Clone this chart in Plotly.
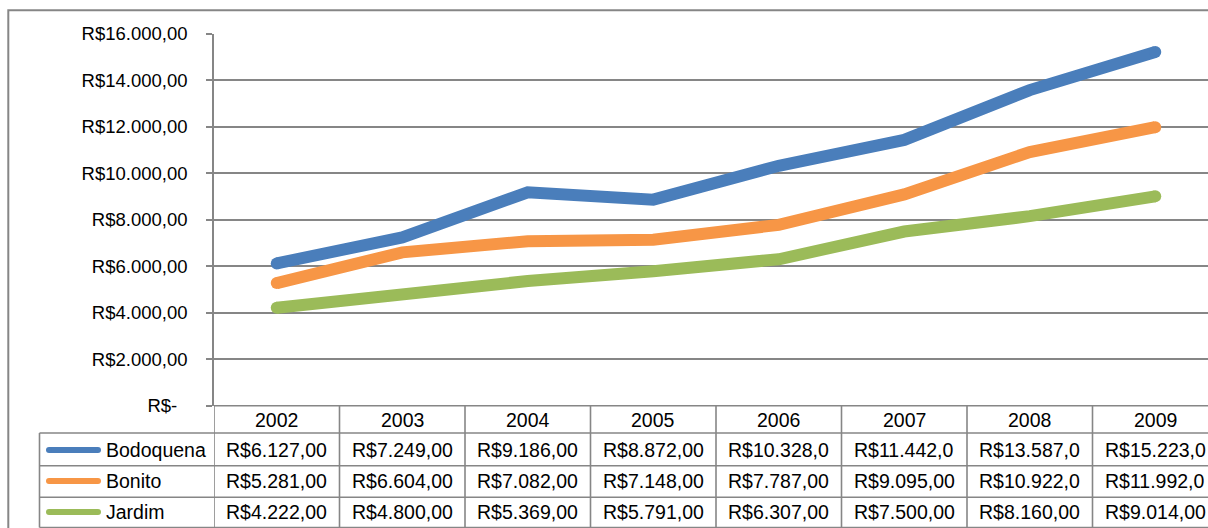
import plotly.graph_objects as go

# ---- data -------------------------------------------------------------
years = ["2002", "2003", "2004", "2005", "2006", "2007", "2008", "2009"]
bodoquena = [6127, 7249, 9186, 8872, 10328, 11442, 13587, 15223]
bonito = [5281, 6604, 7082, 7148, 7787, 9095, 10922, 11992]
jardim = [4222, 4800, 5369, 5791, 6307, 7500, 8160, 9014]

series_names = ["Bodoquena", "Bonito", "Jardim"]
series_values = [bodoquena, bonito, jardim]
series_colors = ["#4A7EBB", "#F79646", "#9BBB59"]

y_tick_values = [0, 2000, 4000, 6000, 8000, 10000, 12000, 14000, 16000]

# ---- helpers ----------------------------------------------------------
W, H = 1208, 528
FONT = "Liberation Sans, Arial, sans-serif"
GRID = "#868686"
LINE_W = 12


def brl(v):
    s = f"{v:,.2f}"
    s = s.replace(",", "X").replace(".", ",").replace("X", ".")
    return "R$" + s


def tick_label(v):
    return "R$-\u00a0\u00a0" if v == 0 else brl(v)


def cell_text(v, max_chars=10):
    # cells are narrow: the text is cut like in a spreadsheet cell
    return brl(v)[:max_chars]


def px(x):
    return x / W


def py(y):
    return 1 - y / H


# geometry (pixels)
plot_left = 214
col_w = 125.5
y_top, y_zero = 34, 405.8
row_lines = [405.8, 433, 465.7, 497.3, 527.5]
header_y = 420
row_y = [450, 481, 512]
legend_left = 39.5
key_x0, key_x1 = 49, 98

x_range = [-0.5, (W - plot_left) / col_w - 0.5]

fig = go.Figure()

n = len(years)
# round caps only at the two ends of every line
cap_sizes = [LINE_W if k in (0, n - 1) else 0 for k in range(n)]

for name, vals, col in zip(series_names, series_values, series_colors):
    fig.add_trace(go.Scatter(
        x=list(range(n)), y=vals, name=name,
        mode="lines+markers",
        line=dict(color=col, width=LINE_W),
        marker=dict(color=col, size=cap_sizes, opacity=1, line=dict(width=0)),
        showlegend=False, hoverinfo="skip", cliponaxis=False,
    ))

shapes = []
line_style = dict(color=GRID, width=1.6)

# outer chart border
shapes.append(dict(type="rect", xref="paper", yref="paper",
                   x0=px(8.3), x1=1.2, y0=-0.2, y1=py(10.3),
                   line=dict(color=GRID, width=2)))

# table horizontal lines
shapes.append(dict(type="line", xref="paper", yref="paper",
                   x0=px(plot_left), x1=1, y0=py(row_lines[0]), y1=py(row_lines[0]),
                   line=line_style))
for yy in row_lines[1:]:
    shapes.append(dict(type="line", xref="paper", yref="paper",
                       x0=px(legend_left), x1=1, y0=py(yy), y1=py(yy),
                       line=line_style))
# legend column left border
shapes.append(dict(type="line", xref="paper", yref="paper",
                   x0=px(legend_left), x1=px(legend_left),
                   y0=py(row_lines[1]), y1=py(row_lines[-1]), line=line_style))
# column boundaries
for k in range(n + 1):
    shapes.append(dict(type="line", xref="x", yref="paper",
                       x0=k - 0.5, x1=k - 0.5, y0=py(row_lines[0]), y1=py(row_lines[-1]),
                       line=line_style))

# legend keys: thick stroke with rounded ends
for i, col in enumerate(series_colors):
    yk = py(row_y[i])
    shapes.append(dict(type="line", xref="paper", yref="paper",
                       x0=px(key_x0), x1=px(key_x1), y0=yk, y1=yk,
                       line=dict(color=col, width=6)))
    for xe in (key_x0, key_x1):
        shapes.append(dict(type="circle", xref="paper", yref="paper",
                           xsizemode="pixel", ysizemode="pixel",
                           xanchor=px(xe), yanchor=yk,
                           x0=-3, x1=3, y0=-3, y1=3,
                           fillcolor=col, line=dict(width=0)))

annotations = []
txt_font = dict(family=FONT, size=19.5, color="black")
for k, yr in enumerate(years):
    annotations.append(dict(x=k, y=py(header_y), xref="x", yref="paper",
                            text=yr, showarrow=False, font=txt_font,
                            xanchor="center", yanchor="middle"))
    for i, vals in enumerate(series_values):
        annotations.append(dict(x=k, y=py(row_y[i]), xref="x", yref="paper",
                                text=cell_text(vals[k]), showarrow=False, font=txt_font,
                                xanchor="center", yanchor="middle"))
for i, name in enumerate(series_names):
    annotations.append(dict(x=px(104), y=py(row_y[i]), xref="paper", yref="paper",
                            text=name, showarrow=False, font=txt_font,
                            xanchor="left", yanchor="middle"))

fig.update_layout(
    template="none",
    width=W, height=H,
    margin=dict(l=0, r=0, t=0, b=0, pad=0, autoexpand=False),
    paper_bgcolor="white", plot_bgcolor="white",
    font=dict(family=FONT, size=18.5, color="black"),
    xaxis=dict(domain=[px(plot_left), 1], range=x_range, automargin=False,
               showgrid=False, zeroline=False, showticklabels=False,
               showline=False, ticks=""),
    yaxis=dict(domain=[py(y_zero), py(y_top)], range=[0, 16000], automargin=False,
               tickvals=y_tick_values,
               ticktext=[tick_label(v) for v in y_tick_values],
               showgrid=True, gridcolor=GRID, gridwidth=1.6,
               zeroline=False, showline=True, linecolor=GRID, linewidth=1.6,
               ticks="outside", ticklen=6, tickcolor=GRID, tickwidth=1.6,
               ticklabelstandoff=15,
               tickfont=dict(family=FONT, size=18.5, color="black")),
    shapes=shapes,
    annotations=annotations,
)

fig.write_html("out.html")
